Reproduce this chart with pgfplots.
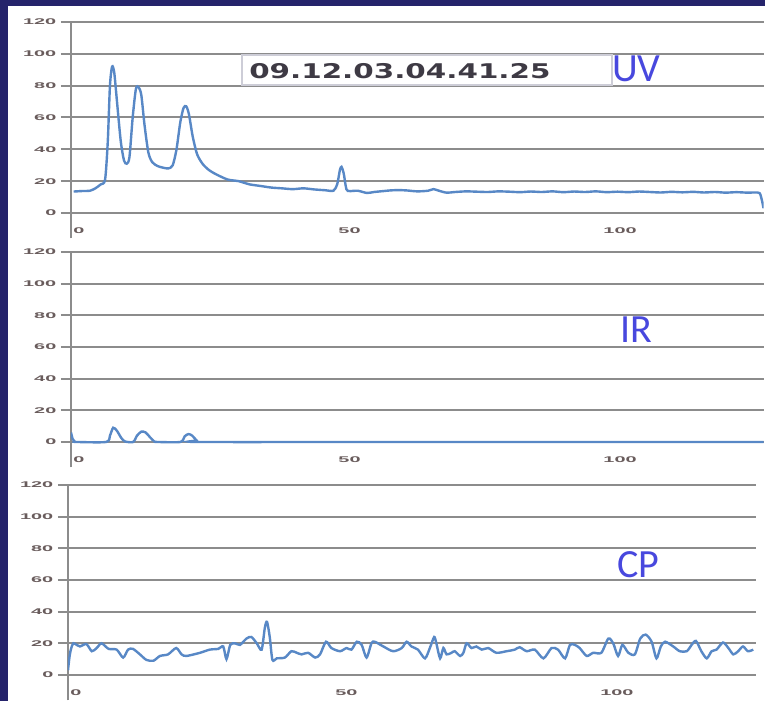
\documentclass[border=0pt]{standalone}
\usepackage{pgfplots}
\pgfplotsset{compat=1.18}
\usepackage{fontspec}
\setmainfont{Liberation Sans}
\newfontfamily\stampfont{DejaVu Sans}
\newfontfamily\tagfont{Carlito}
\definecolor{navy}{RGB}{37,35,107}
\definecolor{gridgray}{RGB}{140,140,140}
\definecolor{trace}{RGB}{88,136,198}
\definecolor{tagblue}{RGB}{72,72,222}
\definecolor{ticktext}{RGB}{105,92,92}
\definecolor{boxline}{RGB}{205,205,215}
\newcommand\tl[1]{\scalebox{2.4}[1]{\bfseries #1}}

\pgfplotsset{
  trc/.style={draw=trace, line width=1.8pt, smooth, tension=0.45, mark=none},
  panel/.style={
    scale only axis, width=519.4pt, height=161.5pt, anchor=south west,
    xmin=0, xmax=128, ymin=-16, ymax=120,
    axis x line*=middle, axis y line*=left,
    hide obscured x ticks=false, hide obscured y ticks=false,
    x axis line style={draw=none},
    y axis line style={draw=gridgray, line width=1.8pt},
    xtick={0,50,100}, xticklabels={\tl{0},\tl{50},\tl{100}},
    ytick={0,20,...,120},
    yticklabels={\tl{0},\tl{20},\tl{40},\tl{60},\tl{80},\tl{100},\tl{120}},
    ymajorgrids, grid style={draw=gridgray, line width=1.5pt},
    tick align=outside, major tick length=7.5pt,
    ytick style={draw=gridgray, line width=1.5pt},
    xtick style={draw=none},
    ticklabel style={font=\fontsize{6.2}{8}\selectfont, text=ticktext},
    xticklabel style={xshift=6pt},
  }
}

\begin{document}
\begin{tikzpicture}
\useasboundingbox (0,0) rectangle (573.75pt,525.75pt);
\fill[navy] (0,0) rectangle (573.75pt,525.75pt);
\fill[white] (6pt,0) rectangle (573.75pt,521.25pt);

% UV detector trace
\begin{axis}[panel, at={(53.25pt,346.875pt)}, height=162.4pt]
\addplot[trc] coordinates {
(0.5,13.5) (2,13.8) (3.5,14) (4.5,15.5) (5.5,18) (6.3,21) (6.8,45) (7.2,80)
(7.6,92) (8.0,88) (8.5,70) (9.2,45) (9.8,33) (10.3,31) (10.8,35) (11.4,60)
(12.0,78) (12.5,79) (13.0,74) (13.6,55) (14.3,38) (15.0,32) (16.0,29.5)
(17.0,28.5) (18.0,28) (18.8,30) (19.5,40) (20.2,57) (20.8,66) (21.3,67)
(21.8,62) (22.5,48) (23.3,37) (24.3,31) (25.5,27) (27,24) (29,21) (31,20)
(33,18) (35,17) (37,16) (39,15.5) (41,15) (43,15.5) (45,14.8) (47,14.3)
(48.5,14) (49.2,18) (49.7,27) (50.0,29) (50.4,25) (50.9,15) (51.5,13.8)
(53,14) (54.7,12.6) (56,13.2) (57.8,13.8) (59,14.2) (60.5,14.4) (62,14.2)
(64,13.6) (66,14) (67,15) (68,14) (69.4,12.8) (71,13.2) (73,13.6) (75,13.4)
(77,13.2) (79,13.6) (81,13.4) (83,13.1) (85,13.5) (87,13.2) (89,13.6)
(91,13.1) (93,13.5) (95,13.2) (97,13.6) (99,13.1) (101,13.4) (103,13.1)
(105,13.5) (107,13.2) (109,12.9) (111,13.3) (113,13.0) (115,13.3) (117,12.9)
(119,13.2) (121,12.8) (123,13.1) (125,12.8) (126.5,12.9) (127.3,12.4)
(127.7,8) (128,3)
};
\end{axis}

% IR detector trace
\begin{axis}[panel, at={(53.25pt,175.275pt)}]
\addplot[trc] coordinates {
(0,6) (0.3,2) (0.7,0.3) (1,0) (6.5,0) (7.2,4) (7.8,9) (8.5,7) (9.3,2.5)
(10,0.3) (11.5,0) (12.2,4) (13,6.5) (13.8,6) (14.6,3) (15.4,0.3) (16,0)
(20.2,0) (21,3.5) (21.7,5) (22.4,4) (23.2,1) (23.8,0) (60,0) (128,0)
};
\end{axis}

% CP detector trace
\begin{axis}[panel, at={(51pt,0.525pt)}, width=516pt, xmax=127.2]
\addplot[trc] coordinates {
(0,3) (0.3,12) (0.6,17) (1,20) (1.6,19) (2.2,18) (3.4,19.5) (4.4,15) (5.3,17)
(6.2,20) (7.5,16.5) (9,16) (10.2,11) (11.1,16) (12,16.5) (13.3,13) (14.5,9.5)
(15.8,9) (17,12) (18.5,13) (20,17) (21,13) (21.9,12) (24.4,14) (26.2,16)
(27.8,16.5) (28.7,18) (29.3,10) (30,19) (30.9,20) (31.8,19) (33,23) (33.9,24)
(34.9,20) (35.8,16) (36.4,30) (36.8,33.5) (37.3,24) (37.8,9.5) (38.6,10.5)
(40.1,11) (41.3,15) (42.3,14) (43.2,13) (44.4,14) (45.7,11) (46.6,13)
(47.7,21) (48.7,17) (50.3,15) (51.5,17) (52.4,16) (53.4,21) (54.3,19)
(55.2,11) (56.1,20) (56.7,21) (58.3,18) (60.1,15) (61.7,17) (62.6,21)
(63.5,18) (64.7,16) (66,10.5) (66.9,17) (67.7,24) (68.1,20) (68.8,10.5)
(69.4,17) (70,13) (70.9,14) (71.5,15) (72.5,12) (73.1,14) (73.7,20) (74.6,17)
(75.5,18) (76.5,16) (77.7,17) (79.2,14) (81.1,15) (82.6,16) (83.5,17.5)
(84.8,15) (86.3,16) (87.9,10.5) (89.4,17) (90.6,16) (91.9,10.5) (92.8,19)
(93.7,19) (94.6,17) (95.9,12) (97.1,14) (98.6,14) (99.9,23) (100.8,20)
(101.7,12) (102.5,19) (103.6,14) (104.8,13) (105.8,23) (106.8,25.5)
(107.9,21) (108.8,10.5) (109.6,18) (110.4,21) (111.9,18) (113.1,15)
(114.4,15) (115.3,19) (116.1,21.5) (117.1,15) (118.1,10.5) (119,15)
(119.9,16) (121.1,20.5) (122.1,17) (123,13) (123.9,15) (124.8,18) (125.7,15)
(126.7,16)
};
\end{axis}

% run stamp and detector names
\filldraw[fill=white, draw=boxline, line width=0.8pt] (181.5pt,462pt) rectangle (459pt,484.5pt);
\node[anchor=base west, inner sep=0pt, text={rgb,255:red,62;green,58;blue,68}]
  at (186.75pt,466.5pt) {\scalebox{1.45}[1]{\stampfont\bfseries\fontsize{15.2}{16}\selectfont 09.12.03.04.41.25}};
\node[anchor=base west, inner sep=0pt, text=tagblue] at (459pt,464.25pt) {\tagfont\fontsize{30}{32}\selectfont UV};
\node[anchor=base west, inner sep=0pt, text=tagblue] at (465pt,268.5pt) {\tagfont\fontsize{30}{32}\selectfont IR};
\node[anchor=base west, inner sep=0pt, text=tagblue] at (462.75pt,93pt) {\tagfont\fontsize{30}{32}\selectfont CP};
\end{tikzpicture}
\end{document}
